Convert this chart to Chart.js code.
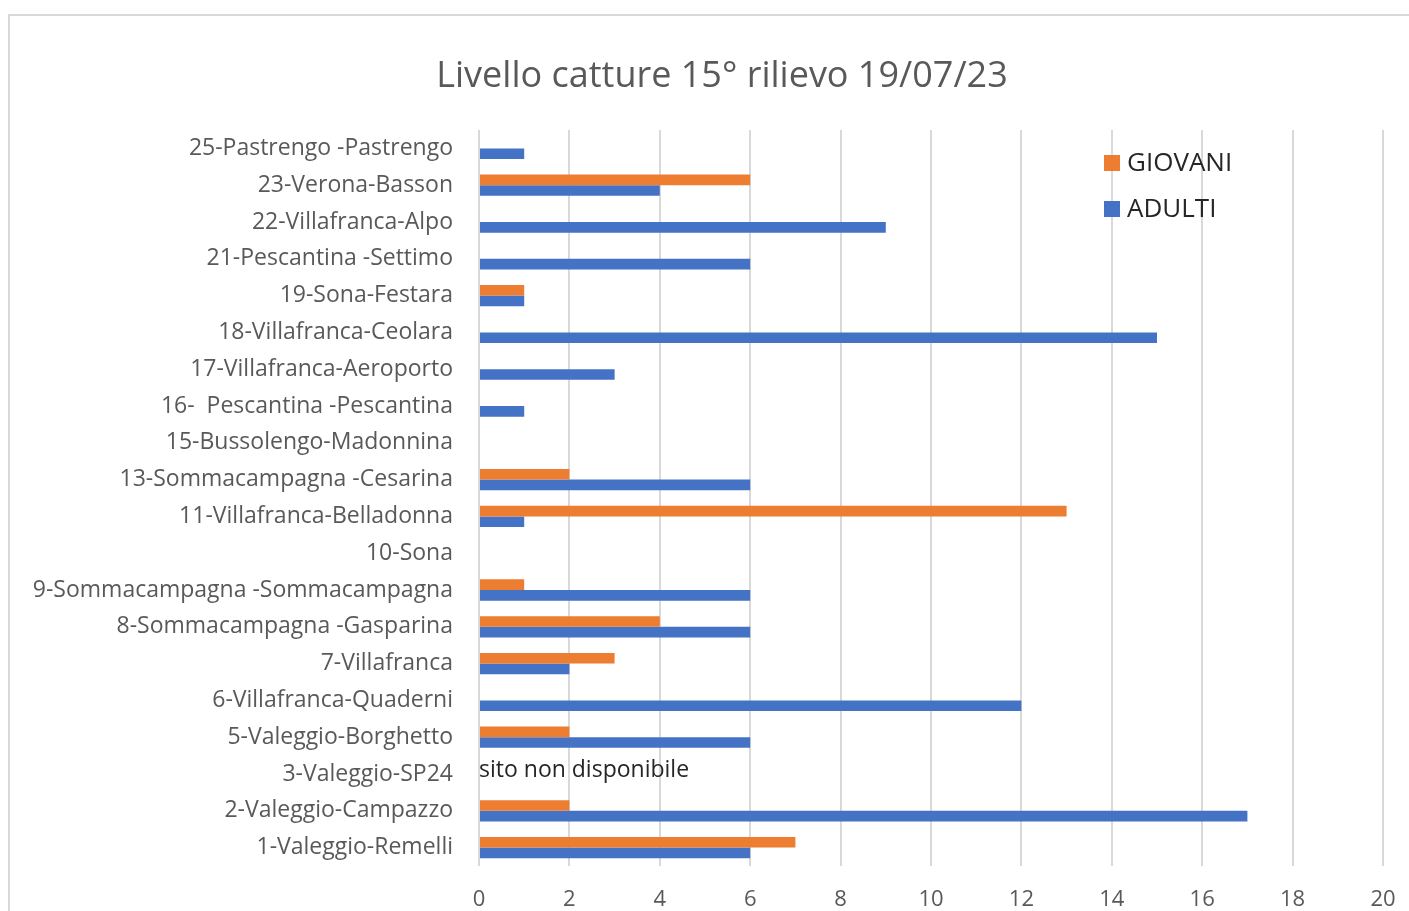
<!DOCTYPE html>
<html>
<head>
<meta charset="utf-8">
<script src="https://cdn.jsdelivr.net/npm/chart.js@4/dist/chart.umd.min.js"></script>
<style>
  html, body { margin: 0; padding: 0; background: #fff; }
  #chart { display: block; }
</style>
</head>
<body>
<canvas id="chart" width="1409" height="911"></canvas>
<script>
// Sites, top to bottom as in the survey sheet
const siti = [
    "25-Pastrengo -Pastrengo",
    "23-Verona-Basson",
    "22-Villafranca-Alpo",
    "21-Pescantina -Settimo",
    "19-Sona-Festara",
    "18-Villafranca-Ceolara",
    "17-Villafranca-Aeroporto",
    "16-  Pescantina -Pescantina",
    "15-Bussolengo-Madonnina",
    "13-Sommacampagna -Cesarina",
    "11-Villafranca-Belladonna",
    "10-Sona",
    "9-Sommacampagna -Sommacampagna",
    "8-Sommacampagna -Gasparina",
    "7-Villafranca",
    "6-Villafranca-Quaderni",
    "5-Valeggio-Borghetto",
    "3-Valeggio-SP24",
    "2-Valeggio-Campazzo",
    "1-Valeggio-Remelli"
];
const giovani = [0, 6, 0, 0, 1, 0, 0, 0, null, 2, 13, null, 1, 4, 3, 0, 2, null, 2, 7];
const adulti  = [1, 4, 9, 6, 1, 15, 3, 1, null, 6, 1, null, 6, 6, 2, 12, 6, null, 17, 6];
const xTicks = [0, 2, 4, 6, 8, 10, 12, 14, 16, 18, 20];
const titolo = "Livello catture 15° rilievo 19/07/23";
const sitoNonDisp = "3-Valeggio-SP24";

const FONT = "'Open Sans', Lato, sans-serif";

// Frame, title, legend and the note on the missing site
const extras = {
    id: 'extras',
    beforeDraw(chart) {
        const c = chart.ctx;
        c.save();
        c.strokeStyle = '#d9d9d9';
        c.lineWidth = 2;
        c.strokeRect(9, 15, 1600, 1200);
        c.restore();
    },
    afterDraw(chart) {
        const c = chart.ctx;
        const area = chart.chartArea;
        c.save();
        // title
        c.fillStyle = '#595959';
        c.font = "36px " + FONT;
        c.textAlign = 'center';
        c.textBaseline = 'middle';
        c.fillText(titolo, 722, 77);

        // legend
        c.font = "26px " + FONT;
        c.textAlign = 'left';
        chart.data.datasets.forEach((ds, i) => {
            const y = 163 + i * 46;
            c.fillStyle = ds.backgroundColor;
            c.fillRect(1104, y - 8, 16, 16);
            c.fillStyle = '#262626';
            c.fillText(ds.label, 1127, y + 1);
        });

        // note on unavailable site
        const yScale = chart.scales.y;
        const yPos = yScale.getPixelForValue(siti.indexOf(sitoNonDisp));
        c.font = "23px " + FONT;
        c.fillStyle = '#262626';
        c.fillText("sito non disponibile", area.left, yPos - 4);
        c.restore();
    }
};

new Chart(document.getElementById("chart"), {
    type: 'bar',
    data: {
        labels: siti,
        datasets: [{
            label: 'GIOVANI',
            data: giovani,
            backgroundColor: '#ED7D31',
            categoryPercentage: 0.58,
            barPercentage: 1.0
        }, {
            label: 'ADULTI',
            data: adulti,
            backgroundColor: '#4472C4',
            categoryPercentage: 0.58,
            barPercentage: 1.0
        }]
    },
    options: {
        indexAxis: 'y',
        responsive: false,
        animation: false,
        layout: {
            padding: { top: 130, right: 26, left: 0, bottom: 0 }
        },
        plugins: {
            legend: { display: false },
            title: { display: false },
            tooltip: { enabled: false }
        },
        scales: {
            x: {
                min: 0,
                max: 20,
                afterBuildTicks: scale => {
                    scale.ticks = xTicks.map(v => ({ value: v }));
                },
                afterFit: scale => {
                    scale.height = 45;
                    scale.paddingLeft = 0;
                    scale.paddingRight = 0;
                },
                grid: { color: '#d9d9d9', lineWidth: 2, drawTicks: false },
                border: { display: false },
                ticks: {
                    color: '#595959',
                    font: { family: FONT, size: 22 },
                    padding: 21
                }
            },
            y: {
                afterFit: scale => { scale.width = 479; },
                grid: { display: false, drawTicks: false },
                border: { display: false },
                ticks: {
                    color: '#595959',
                    font: { family: FONT, size: 23 },
                    padding: 26,
                    autoSkip: false
                }
            }
        }
    },
    plugins: [extras]
});
</script>
</body>
</html>
